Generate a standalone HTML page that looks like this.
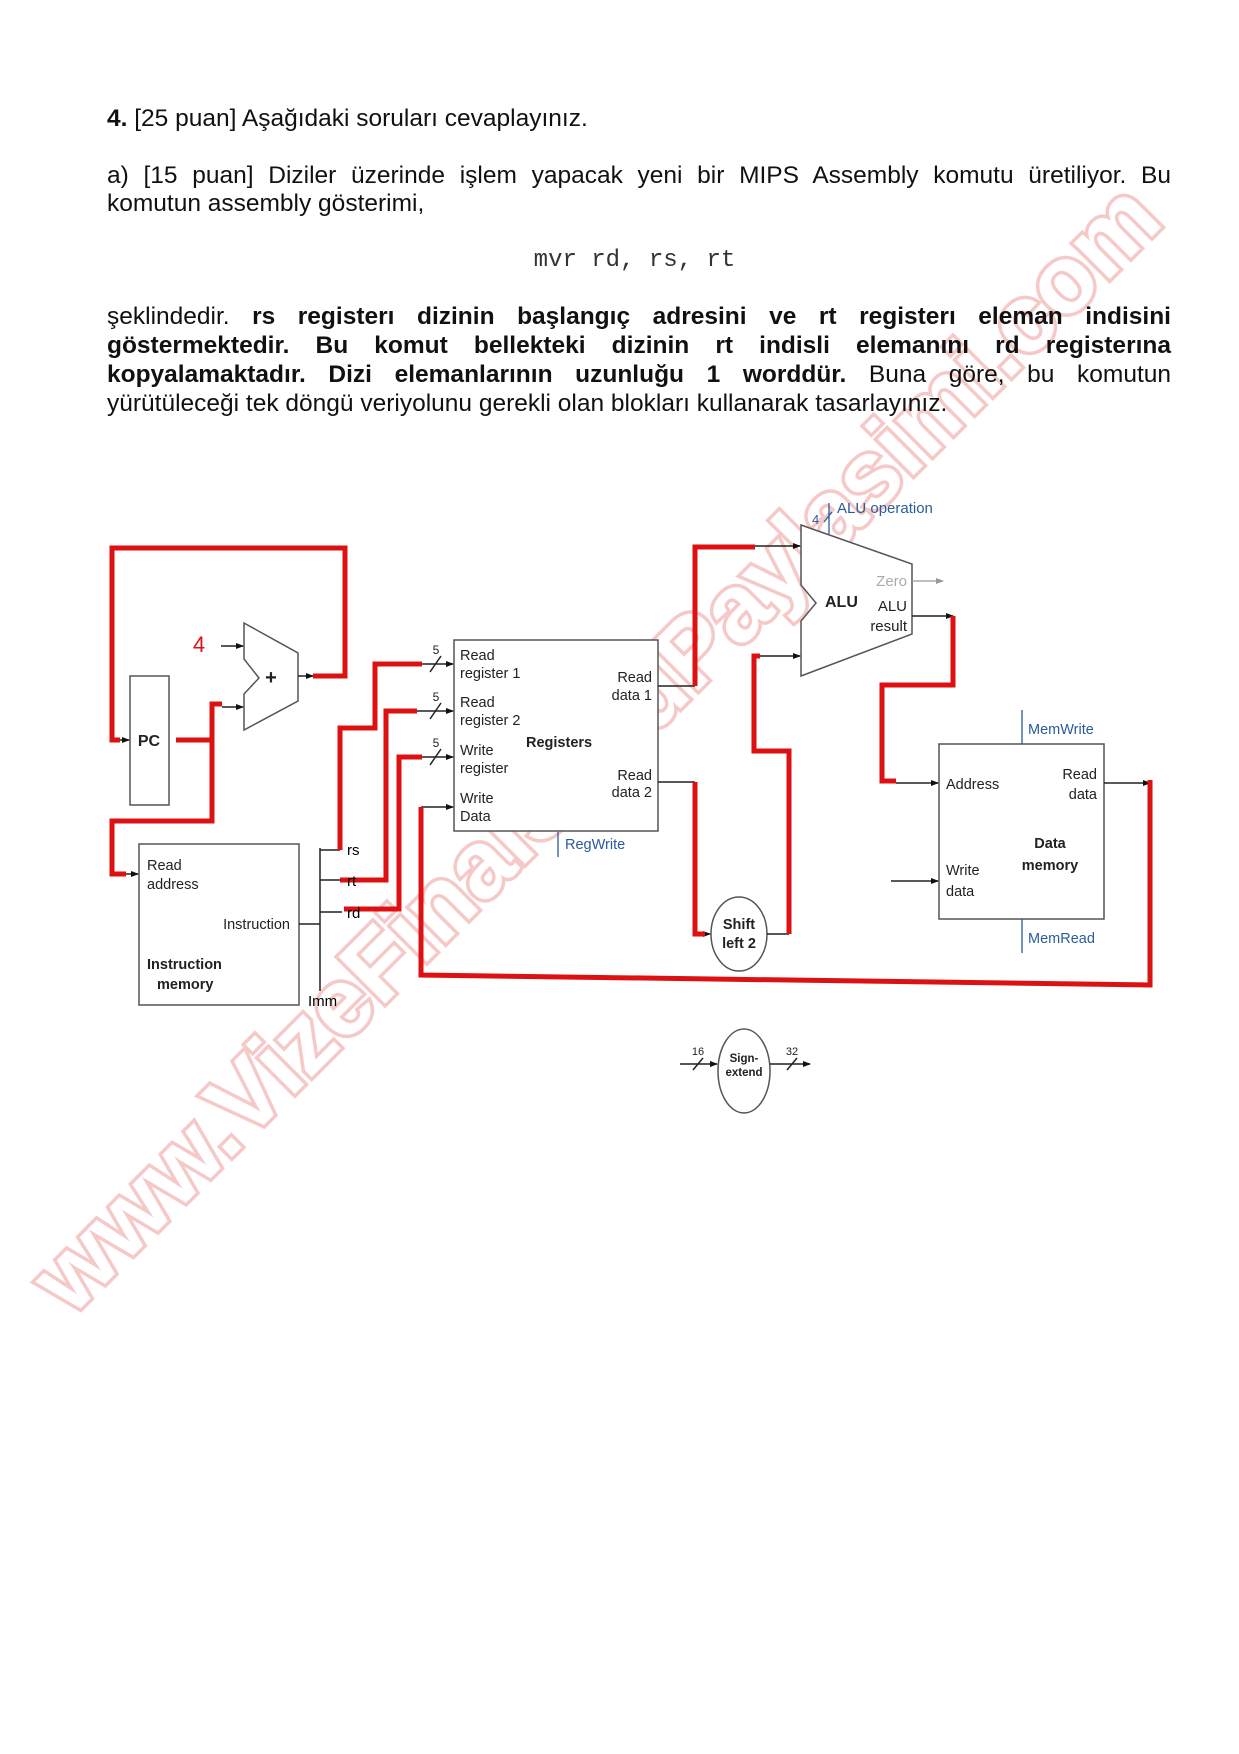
<!DOCTYPE html>
<html><head><meta charset="utf-8">
<style>
html,body{margin:0;padding:0;background:#fff;}
#pg{position:relative;width:1239px;height:1754px;overflow:hidden;font-family:"Liberation Sans",Arial,sans-serif;color:#111;}
.l{position:absolute;left:107px;width:1064px;font-size:24.5px;line-height:28px;white-space:nowrap;}
.j{text-align:justify;text-align-last:justify;white-space:normal;}
svg{position:absolute;left:0;top:0;}
</style></head><body><div id="pg">
<svg width="1239" height="1754" viewBox="0 0 1239 1754">
<text x="595" y="780" text-anchor="middle" transform="rotate(-45 595 747)" font-family="Liberation Sans, sans-serif" font-weight="bold" font-size="96" fill="#fff" stroke="#f6c4c4" stroke-width="7" paint-order="stroke" opacity="0.9">www.VizeFinalSoruPaylasimi.com</text>
</svg>
<div class="l" style="top:105px"><b>4.</b> [25 puan] Aşağıdaki soruları cevaplayınız.</div>
<div class="l j" style="top:162px">a) [15 puan] Diziler üzerinde işlem yapacak yeni bir MIPS Assembly komutu üretiliyor. Bu</div>
<div class="l" style="top:190px">komutun assembly gösterimi,</div>
<div class="l" style="top:247px;text-align:center;left:0;width:1239px;font-family:'Liberation Mono',monospace;font-size:24px;color:#333;padding-left:30px;box-sizing:border-box">mvr rd, rs, rt</div>
<div class="l j" style="top:303px">şeklindedir. <b>rs registerı dizinin başlangıç adresini ve rt registerı eleman indisini</b></div>
<div class="l j" style="top:332px"><b>göstermektedir. Bu komut bellekteki dizinin rt indisli elemanını rd registerına</b></div>
<div class="l j" style="top:361px"><b>kopyalamaktadır. Dizi elemanlarının uzunluğu 1 worddür.</b> Buna göre, bu komutun</div>
<div class="l" style="top:390px">yürütüleceği tek döngü veriyolunu gerekli olan blokları kullanarak tasarlayınız.</div>

<svg width="1239" height="1754" viewBox="0 0 1239 1754" font-family="Liberation Sans, sans-serif">
<defs><marker id="a" markerWidth="8" markerHeight="8" refX="7" refY="4" orient="auto" markerUnits="userSpaceOnUse"><path d="M0,1 L8,4 L0,7 Z" fill="#111"/></marker>
<marker id="g" markerWidth="8" markerHeight="8" refX="7" refY="4" orient="auto" markerUnits="userSpaceOnUse"><path d="M0,1 L8,4 L0,7 Z" fill="#999"/></marker></defs>
<g fill="none" stroke="#555" stroke-width="1.5">
<rect x="130" y="676" width="39" height="129" fill="#fff"/>
<polygon points="244,623 298,653 298,701 244,730 244,694 259,678 244,659" fill="#fff"/>
<rect x="139" y="844" width="160" height="161" fill="#fff"/>
<rect x="454" y="640" width="204" height="191" fill="#fff"/>
<polygon points="801,525 912,564 912,634 801,676 801,621 816,603 801,585" fill="#fff"/>
<rect x="939" y="744" width="165" height="175" fill="#fff"/>
<ellipse cx="739" cy="934" rx="28" ry="37" fill="#fff"/>
<ellipse cx="744" cy="1071" rx="26" ry="42" fill="#fff"/>
</g>
<g stroke="#222" stroke-width="1.5" fill="none">
<path d="M299,924 H320 M320,848 V991 M320,850 H340 M320,880 H340 M320,912 H342"/>
<path d="M221,646 H243" marker-end="url(#a)"/>
<path d="M222,707 H243" marker-end="url(#a)"/>
<path d="M298,676 H313" marker-end="url(#a)"/>
<path d="M112,740 H129" marker-end="url(#a)"/>
<path d="M125,874 H138" marker-end="url(#a)"/>
<path d="M422,664 H453" marker-end="url(#a)"/>
<path d="M417,711 H453" marker-end="url(#a)"/>
<path d="M422,757 H453" marker-end="url(#a)"/>
<path d="M421,807 H453" marker-end="url(#a)"/>
<path d="M430,672 L441,656 M430,719 L441,703 M430,765 L441,749"/>
<path d="M658,686 H695 M658,782 H695"/>
<path d="M755,546 H800" marker-end="url(#a)"/>
<path d="M760,656 H800" marker-end="url(#a)"/>
<path d="M700,934 H710" marker-end="url(#a)"/>
<path d="M767,934 H789"/>
<path d="M912,616 H953" marker-end="url(#a)"/>
<path d="M896,783 H938" marker-end="url(#a)"/>
<path d="M891,881 H938" marker-end="url(#a)"/>
<path d="M1104,783 H1150" marker-end="url(#a)"/>
<path d="M680,1064 H717" marker-end="url(#a)"/>
<path d="M770,1064 H810" marker-end="url(#a)"/>
<path d="M693,1070 L703,1058 M787,1070 L797,1058"/>
</g>
<path d="M912,581 H943" stroke="#999" stroke-width="1.2" marker-end="url(#g)"/>
<g stroke="#2a5c9a" stroke-width="1.3">
<path d="M558,832 V857 M829,503 V534 M824,522 L832,512 M1022,710 V744 M1022,919 V953"/>
</g>
<g fill="none" stroke="#dd1111" stroke-width="5" stroke-linejoin="miter">
<path d="M313,676 H345 V548 H112 V740 H120"/>
<path d="M176,740 H212 V821 H112 V874 H126"/>
<path d="M212,740 V704 H222"/>
<path d="M340,850 V728 H375 V664 H422"/>
<path d="M340,880 H386 V711 H417"/>
<path d="M344,909 H399 V757 H422"/>
<path d="M421,807 V975 L1150,985 V780"/>
<path d="M695,686 V547 H755"/>
<path d="M695,782 V934 H705"/>
<path d="M789,934 V751 H754 V656 H760"/>
<path d="M953,616 V685 H882 V781 H896"/>
</g>
<g font-size="14.5" fill="#222">
<text x="149" y="746" font-size="16" font-weight="bold" text-anchor="middle">PC</text>
<text x="271" y="684" font-size="20" font-weight="bold" text-anchor="middle">+</text>
<text x="199" y="652" font-size="22" fill="#dd1111" text-anchor="middle">4</text>
<text x="147" y="870">Read</text><text x="147" y="889">address</text>
<text x="290" y="929" text-anchor="end">Instruction</text>
<text x="147" y="969" font-weight="bold">Instruction</text><text x="157" y="989" font-weight="bold">memory</text>
<text x="347" y="855" font-size="15" fill="#000">rs</text>
<text x="347" y="886" font-size="15" fill="#000">rt</text>
<text x="347" y="918" font-size="15" fill="#000">rd</text>
<text x="308" y="1006" font-size="15" fill="#000">Imm</text>
<text x="436" y="654" font-size="12" text-anchor="middle">5</text>
<text x="436" y="701" font-size="12" text-anchor="middle">5</text>
<text x="436" y="747" font-size="12" text-anchor="middle">5</text>
<text x="460" y="660">Read</text><text x="460" y="678">register 1</text>
<text x="460" y="707">Read</text><text x="460" y="725">register 2</text>
<text x="460" y="755">Write</text><text x="460" y="773">register</text>
<text x="460" y="803">Write</text><text x="460" y="821">Data</text>
<text x="526" y="747" font-weight="bold">Registers</text>
<text x="652" y="682" text-anchor="end">Read</text><text x="652" y="700" text-anchor="end">data 1</text>
<text x="652" y="780" text-anchor="end">Read</text><text x="652" y="797" text-anchor="end">data 2</text>
<text x="565" y="849" fill="#2a5c9a">RegWrite</text>
<text x="837" y="513" fill="#2a5c9a" font-size="15">ALU operation</text>
<text x="812" y="524" fill="#2a5c9a" font-size="13">4</text>
<text x="825" y="607" font-weight="bold" font-size="16">ALU</text>
<text x="907" y="586" fill="#aaa" text-anchor="end" font-size="15">Zero</text>
<text x="907" y="611" text-anchor="end" font-size="15">ALU</text>
<text x="907" y="631" text-anchor="end" font-size="15">result</text>
<text x="739" y="929" text-anchor="middle" font-weight="bold">Shift</text>
<text x="739" y="948" text-anchor="middle" font-weight="bold">left 2</text>
<text x="946" y="789">Address</text>
<text x="1097" y="779" text-anchor="end">Read</text><text x="1097" y="799" text-anchor="end">data</text>
<text x="1050" y="848" text-anchor="middle" font-weight="bold">Data</text>
<text x="1050" y="870" text-anchor="middle" font-weight="bold">memory</text>
<text x="946" y="875">Write</text><text x="946" y="896">data</text>
<text x="1028" y="734" fill="#2a5c9a">MemWrite</text>
<text x="1028" y="943" fill="#2a5c9a">MemRead</text>
<text x="744" y="1062" text-anchor="middle" font-weight="bold" font-size="11.5">Sign-</text>
<text x="744" y="1076" text-anchor="middle" font-weight="bold" font-size="11.5">extend</text>
<text x="698" y="1055" text-anchor="middle" font-size="11">16</text>
<text x="792" y="1055" text-anchor="middle" font-size="11">32</text>
</g>
</svg>
</div></body></html>
